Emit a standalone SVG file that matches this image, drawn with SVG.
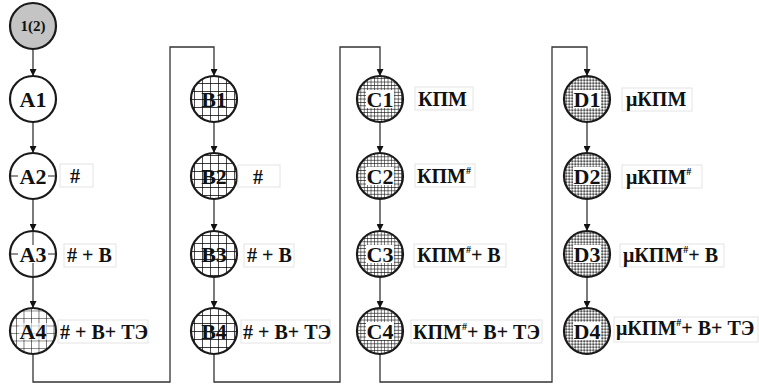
<svg xmlns="http://www.w3.org/2000/svg" width="759" height="384" viewBox="0 0 759 384">
<style>
.n{stroke:#1a1a1a;stroke-width:2.2}
.nt{font-family:"Liberation Serif","Times New Roman",serif;font-weight:bold;font-size:22px;fill:#111;text-anchor:middle}
.lt{font-family:"Liberation Serif","Times New Roman",serif;font-weight:bold;font-size:20px;fill:#111}
.lb{fill:#fff;stroke:#e4e4e4;stroke-width:1}
.c{fill:none;stroke:#333;stroke-width:1.3}
.sup{font-size:10px}
</style>
<defs>
<marker id="ah" viewBox="0 0 10 10" refX="10" refY="5" markerWidth="7" markerHeight="7" orient="auto" markerUnits="userSpaceOnUse">
<path d="M0,0 L10,5 L0,10 z" fill="#111"/>
</marker>
<pattern id="gridA" patternUnits="userSpaceOnUse" x="1" y="3" width="7.5" height="7.5">
<rect width="7.5" height="7.5" fill="#fff"/>
<path d="M0,0 H7.5 M0,0 V7.5" stroke="#111" stroke-width="1.1"/>
</pattern>
<pattern id="gridB" patternUnits="userSpaceOnUse" x="2" y="3" width="8" height="8">
<rect width="8" height="8" fill="#fff"/>
<path d="M0,0 H8 M0,0 V8" stroke="#000" stroke-width="1.4"/>
</pattern>
<pattern id="gridC" patternUnits="userSpaceOnUse" width="3.4" height="3.4">
<rect width="3.4" height="3.4" fill="#fff"/>
<path d="M0,0 H3.4 M0,0 V3.4" stroke="#111" stroke-width="1.1"/>
</pattern>
<pattern id="dotD" patternUnits="userSpaceOnUse" width="3" height="3">
<rect width="3" height="3" fill="#ababab"/>
<rect width="1.5" height="1.5" fill="#fff"/>
<rect x="1.5" y="1.5" width="1.5" height="1.5" fill="#555"/>
</pattern>
</defs>
<rect width="759" height="384" fill="#fff"/>

<g id="connectors">
<line class="c" x1="33" y1="49" x2="33" y2="76" marker-end="url(#ah)"/>
<line class="c" x1="33" y1="122" x2="33" y2="153" marker-end="url(#ah)"/>
<line class="c" x1="33" y1="199" x2="33" y2="231" marker-end="url(#ah)"/>
<line class="c" x1="33" y1="277" x2="33" y2="308" marker-end="url(#ah)"/>
<polyline class="c" points="33,354 33,382 170,382 170,47 214,47 214,76" marker-end="url(#ah)"/>
<line class="c" x1="214" y1="122" x2="214" y2="153" marker-end="url(#ah)"/>
<line class="c" x1="214" y1="199" x2="214" y2="231" marker-end="url(#ah)"/>
<line class="c" x1="214" y1="277" x2="214" y2="308" marker-end="url(#ah)"/>
<polyline class="c" points="214,354 214,382 340,382 340,47 380,47 380,76" marker-end="url(#ah)"/>
<line class="c" x1="380" y1="122" x2="380" y2="153" marker-end="url(#ah)"/>
<line class="c" x1="380" y1="199" x2="380" y2="231" marker-end="url(#ah)"/>
<line class="c" x1="380" y1="277" x2="380" y2="308" marker-end="url(#ah)"/>
<polyline class="c" points="380,354 380,382 552,382 552,47 587,47 587,76" marker-end="url(#ah)"/>
<line class="c" x1="587" y1="122" x2="587" y2="153" marker-end="url(#ah)"/>
<line class="c" x1="587" y1="199" x2="587" y2="231" marker-end="url(#ah)"/>
<line class="c" x1="587" y1="277" x2="587" y2="308" marker-end="url(#ah)"/>
</g>

<g id="start">
<circle class="n" cx="33" cy="26" r="23" fill="#c4c4c4"/>
<text class="nt" x="33" y="31" style="font-size:15px">1(2)</text>
</g>

<g id="A1">
<circle class="n" cx="33" cy="99" r="23" fill="#fff"/>
<text class="nt" x="33" y="107">A1</text>
</g>
<g id="A2">
<circle class="n" cx="33" cy="176" r="23" fill="#fff"/>
<line x1="10" y1="176" x2="56" y2="176" stroke="#222" stroke-width="1"/>
<rect x="18" y="167" width="30" height="18" fill="#fff"/>
<text class="nt" x="33" y="184">A2</text>
<rect class="lb" x="60" y="164" width="33" height="23"/>
<text class="lt" x="70" y="183">#</text>
</g>
<g id="A3">
<circle class="n" cx="33" cy="254" r="23" fill="#fff"/>
<line x1="10" y1="254" x2="56" y2="254" stroke="#222" stroke-width="1"/>
<line x1="33" y1="231" x2="33" y2="277" stroke="#222" stroke-width="1"/>
<rect x="18" y="245" width="30" height="18" fill="#fff"/>
<text class="nt" x="33" y="262">A3</text>
<rect class="lb" x="64" y="244" width="52" height="23"/>
<text class="lt" x="67" y="262"># + В</text>
</g>
<g id="A4">
<circle class="n" cx="33" cy="331" r="23" fill="url(#gridA)"/>
<rect x="19" y="323" width="28" height="17" fill="#fff" fill-opacity="0.6"/>
<text class="nt" x="33" y="339">A4</text>
<rect class="lb" x="58" y="320" width="90" height="23"/>
<text class="lt" x="60" y="339"># + В+ ТЭ</text>
</g>

<g id="B1">
<circle class="n" cx="214" cy="99" r="23" fill="url(#gridB)"/>
<text class="nt" x="214" y="107">B1</text>
</g>
<g id="B2">
<circle class="n" cx="214" cy="176" r="23" fill="url(#gridB)"/>
<text class="nt" x="214" y="184">B2</text>
<rect class="lb" x="238" y="165" width="42" height="22"/>
<text class="lt" x="253" y="184">#</text>
</g>
<g id="B3">
<circle class="n" cx="214" cy="254" r="23" fill="url(#gridB)"/>
<text class="nt" x="214" y="262">B3</text>
<rect class="lb" x="244" y="244" width="50" height="23"/>
<text class="lt" x="247" y="262"># + В</text>
</g>
<g id="B4">
<circle class="n" cx="214" cy="331" r="23" fill="url(#gridB)"/>
<text class="nt" x="214" y="339">B4</text>
<rect class="lb" x="241" y="320" width="89" height="23"/>
<text class="lt" x="243" y="339"># + В+ ТЭ</text>
</g>

<g id="C1">
<circle class="n" cx="380" cy="99" r="23" fill="url(#gridC)"/>
<rect x="366" y="90" width="28" height="18" fill="#fff"/>
<text class="nt" x="380" y="107">C1</text>
<rect class="lb" x="415" y="87" width="58" height="23"/>
<text class="lt" x="418" y="106">КПМ</text>
</g>
<g id="C2">
<circle class="n" cx="380" cy="176" r="23" fill="url(#gridC)"/>
<rect x="366" y="167" width="28" height="18" fill="#fff"/>
<text class="nt" x="380" y="184">C2</text>
<rect class="lb" x="415" y="164" width="60" height="23"/>
<text class="lt" x="417" y="183">КПМ<tspan class="sup" dy="-9">#</tspan></text>
</g>
<g id="C3">
<circle class="n" cx="380" cy="254" r="23" fill="url(#gridC)"/>
<rect x="366" y="245" width="28" height="18" fill="#fff"/>
<text class="nt" x="380" y="262">C3</text>
<rect class="lb" x="414" y="244" width="92" height="23"/>
<text class="lt" x="417" y="262">КПМ<tspan class="sup" dy="-9">#</tspan><tspan dy="9">+ В</tspan></text>
</g>
<g id="C4">
<circle class="n" cx="380" cy="331" r="23" fill="url(#gridC)"/>
<rect x="366" y="322" width="28" height="18" fill="#fff"/>
<text class="nt" x="380" y="339">C4</text>
<rect class="lb" x="411" y="320" width="131" height="23"/>
<text class="lt" x="413" y="339">КПМ<tspan class="sup" dy="-9">#</tspan><tspan dy="9">+ В+ ТЭ</tspan></text>
</g>

<g id="D1">
<circle class="n" cx="587" cy="99" r="23" fill="url(#dotD)"/>
<rect x="573" y="90" width="28" height="18" fill="#fff"/>
<text class="nt" x="587" y="107">D1</text>
<rect class="lb" x="622" y="88" width="70" height="23"/>
<text class="lt" x="626" y="106">μКПМ</text>
</g>
<g id="D2">
<circle class="n" cx="587" cy="176" r="23" fill="url(#dotD)"/>
<rect x="573" y="167" width="28" height="18" fill="#fff"/>
<text class="nt" x="587" y="184">D2</text>
<rect class="lb" x="622" y="165" width="80" height="23"/>
<text class="lt" x="626" y="184">μКПМ<tspan class="sup" dy="-9">#</tspan></text>
</g>
<g id="D3">
<circle class="n" cx="587" cy="254" r="23" fill="url(#dotD)"/>
<rect x="573" y="245" width="28" height="18" fill="#fff"/>
<text class="nt" x="587" y="262">D3</text>
<rect class="lb" x="620" y="244" width="104" height="23"/>
<text class="lt" x="623" y="262">μКПМ<tspan class="sup" dy="-9">#</tspan><tspan dy="9">+ В</tspan></text>
</g>
<g id="D4">
<circle class="n" cx="587" cy="331" r="23" fill="url(#dotD)"/>
<rect x="573" y="322" width="28" height="18" fill="#fff"/>
<text class="nt" x="587" y="339">D4</text>
<rect class="lb" x="614" y="317" width="144" height="25"/>
<text class="lt" x="616" y="335">μКПМ<tspan class="sup" dy="-9">#</tspan><tspan dy="9">+ В+ ТЭ</tspan></text>
</g>
</svg>
